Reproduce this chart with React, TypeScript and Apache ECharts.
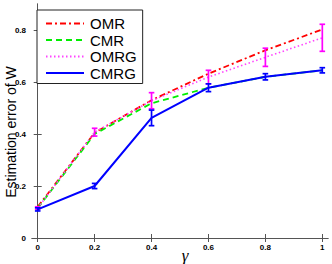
import React, { useEffect, useRef } from "react";
import * as echarts from "echarts";

const gamma = [0, 0.2, 0.4, 0.6, 0.8, 1];
const omr = [0.12, 0.405, 0.53, 0.632, 0.722, 0.802];
const cmr = [0.115, 0.4, 0.518, 0.578, 0.62, 0.645];
const omrg = [0.115, 0.407, 0.528, 0.619, 0.695, 0.77];
const omrgErr = [0.005, 0.015, 0.031, 0.026, 0.035, 0.052];
const cmrg = [0.11, 0.2, 0.462, 0.578, 0.62, 0.645];
const cmrgErr = [0.006, 0.01, 0.03, 0.015, 0.012, 0.01];
const xTicks = [0, 0.2, 0.4, 0.6, 0.8, 1];
const yTicks = [0, 0.2, 0.4, 0.6, 0.8];
const names = ["OMR", "CMR", "OMRG", "CMRG"];

const FONT = "'Liberation Sans', Arial, Helvetica, sans-serif";

const pts = (ys: number[]) => gamma.map((g, i) => [g, ys[i]]);
const errData = (ys: number[], es: number[]) =>
  gamma.map((g, i) => [g, ys[i] - es[i], ys[i] + es[i]]);

const errSeries = (data: number[][], color: string, z: number) => ({
  type: "custom",
  silent: true,
  z,
  data,
  encode: { x: 0, y: [1, 2] },
  renderItem: (_p: any, api: any) => {
    const x = api.value(0);
    const a = api.coord([x, api.value(1)]);
    const b = api.coord([x, api.value(2)]);
    const hw = 2.8;
    const st = { stroke: color, lineWidth: 1.7 };
    return {
      type: "group",
      children: [
        { type: "line", shape: { x1: a[0], y1: a[1], x2: b[0], y2: b[1] }, style: st },
        { type: "line", shape: { x1: a[0] - hw, y1: a[1], x2: a[0] + hw, y2: a[1] }, style: st },
        { type: "line", shape: { x1: b[0] - hw, y1: b[1], x2: b[0] + hw, y2: b[1] }, style: st },
      ],
    };
  },
});

export default function App() {
  const ref = useRef<HTMLDivElement>(null);
  useEffect(() => {
    const chart = echarts.init(ref.current!, null, { renderer: "svg" });
    const axisCommon = {
      type: "value",
      axisLine: { show: true, lineStyle: { color: "#555", width: 1 } },
      splitLine: { show: false },
    };
    const labelStyle = {
      formatter: (v: number) => String(Math.round(v * 10) / 10),
      fontSize: 8,
      fontWeight: "bold",
      color: "#000",
      fontFamily: FONT,
    };
    chart.setOption({
      animation: false,
      backgroundColor: "#fff",
      textStyle: { fontFamily: FONT },
      grid: { left: 32, right: 4, top: 4, bottom: 26 },
      xAxis: [
        {
          ...axisCommon,
          min: -0.02,
          max: 1.02,
          position: "bottom",
          axisTick: { inside: true, length: 4, customValues: xTicks, lineStyle: { color: "#555" } },
          axisLabel: { ...labelStyle, customValues: xTicks, margin: 5 },
        },
        {
          ...axisCommon,
          min: -0.02,
          max: 1.02,
          position: "top",
          axisTick: { inside: true, length: 4, customValues: xTicks, lineStyle: { color: "#555" } },
          axisLabel: { show: false },
        },
      ],
      yAxis: [
        {
          ...axisCommon,
          min: 0,
          max: 0.9,
          position: "left",
          axisTick: { inside: true, length: 4, customValues: yTicks, lineStyle: { color: "#555" } },
          axisLabel: { ...labelStyle, customValues: yTicks, margin: 6 },
        },
        {
          ...axisCommon,
          min: 0,
          max: 0.9,
          position: "right",
          axisTick: { inside: true, length: 4, customValues: yTicks, lineStyle: { color: "#555" } },
          axisLabel: { show: false },
        },
      ],
      legend: {
        data: names,
        orient: "vertical",
        left: 37,
        top: 10,
        width: 106,
        padding: [6, 6, 3, 8],
        itemWidth: 38,
        itemHeight: 12,
        itemGap: 1.5,
        itemStyle: { opacity: 0 },
        backgroundColor: "#fff",
        borderColor: "#222",
        borderWidth: 1,
        borderRadius: 0,
        textStyle: { fontSize: 15, fontFamily: FONT, color: "#000", padding: [0, 0, 0, 1] },
      },
      graphic: [
        {
          type: "text",
          x: 11,
          y: 132,
          rotation: Math.PI / 2,
          style: {
            text: "Estimation error of W",
            fontSize: 14,
            fontFamily: FONT,
            fill: "#000",
            align: "center",
            verticalAlign: "middle",
          },
        },
        {
          type: "text",
          x: 185,
          y: 255,
          style: {
            text: "γ",
            fontSize: 17,
            fontStyle: "italic",
            fontFamily: "'Liberation Serif', serif",
            fill: "#000",
            align: "center",
            verticalAlign: "middle",
          },
        },
      ],
      series: [
        {
          name: "OMR",
          type: "line",
          data: pts(omr),
          symbol: "none",
          z: 2,
          color: "#ff0000",
          lineStyle: { color: "#ff0000", width: 1.8, type: [6, 3, 2, 3] },
        },
        {
          name: "CMR",
          type: "line",
          data: pts(cmr),
          symbol: "none",
          z: 3,
          color: "#00ee00",
          lineStyle: { color: "#00ee00", width: 1.8, type: [6, 4] },
        },
        {
          name: "OMRG",
          type: "line",
          data: pts(omrg),
          symbol: "none",
          z: 4,
          color: "#ff44ff",
          lineStyle: { color: "#ff44ff", width: 1.6, type: [1.5, 2.5] },
        },
        errSeries(errData(omrg, omrgErr), "#ff00ff", 5),
        {
          name: "CMRG",
          type: "line",
          data: pts(cmrg),
          symbol: "none",
          z: 6,
          color: "#0000ff",
          lineStyle: { color: "#0000ff", width: 2, type: "solid" },
        },
        errSeries(errData(cmrg, cmrgErr), "#0000ff", 7),
      ],
    });
    return () => chart.dispose();
  }, []);
  return (
    <div
      ref={ref}
      style={{ position: "fixed", left: 0, top: 0, width: 332, height: 264 }}
    />
  );
}
